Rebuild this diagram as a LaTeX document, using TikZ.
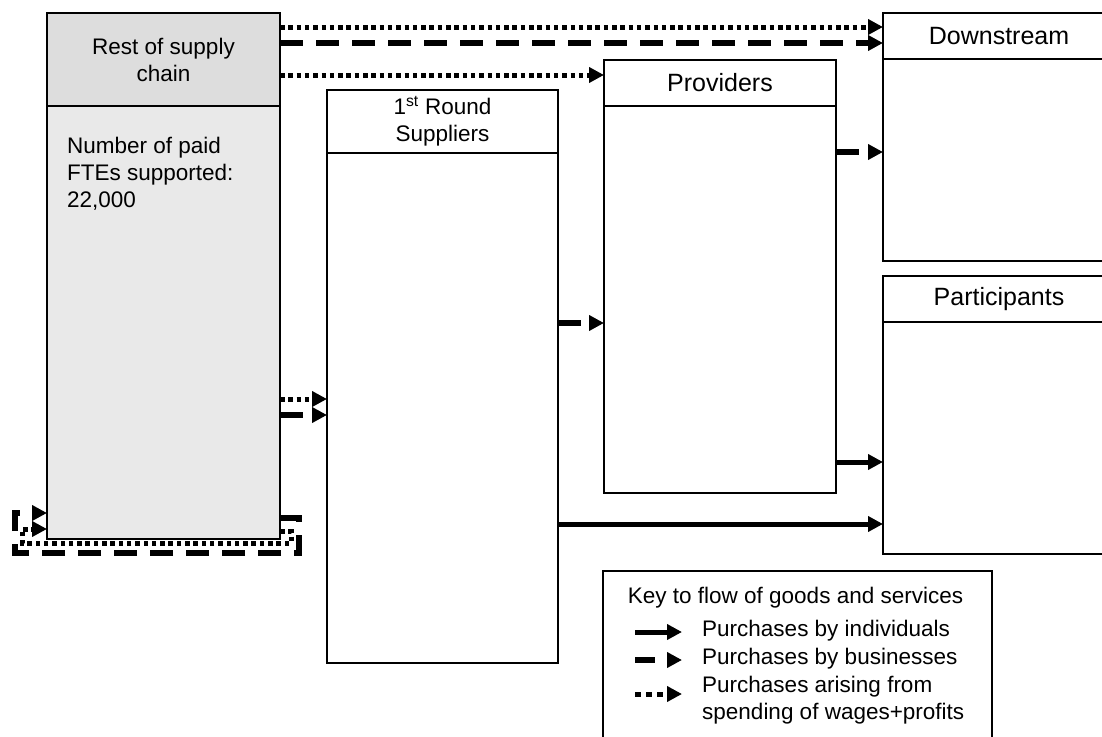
\documentclass[tikz,border=0pt]{standalone}
\usepackage{fontspec}
\setmainfont{Liberation Sans}
\usetikzlibrary{arrows.meta}

\definecolor{headgray}{RGB}{221,221,221}
\definecolor{bodygray}{RGB}{233,233,233}

\newcommand{\normtext}{\fontsize{22.5}{27}\selectfont}
\newcommand{\bigtext}{\fontsize{25}{30}\selectfont}

\tikzset{
  box/.style={draw=black, line width=1.5pt, inner sep=0pt, outer sep=0pt, fill=white},
  head/.style={box, font=\normtext, align=center},
  bighead/.style={box, font=\bigtext, align=center},
  indflow/.style={line width=5pt, -{Triangle[length=15pt,width=15pt]}},
  busflow/.style={line width=5.5pt, dash pattern=on 23pt off 13pt, -{Triangle[length=15pt,width=15pt]}},
  wageflow/.style={line width=5pt, dash pattern=on 4.5pt off 3.8pt, -{Triangle[length=15pt,width=15pt]}},
}

\begin{document}
\begin{tikzpicture}[x=1pt,y=-1pt]
        \useasboundingbox (0,0) rectangle (1102,736);
        \clip (0,0) rectangle (1102,736);

        % boxes
        \node[box, fill=bodygray, minimum width=233, minimum height=526] (rsc) at (163.5,276) {};
        \node[head, fill=headgray, minimum width=233, minimum height=93, anchor=north] (rsch) at (rsc.north) {Rest of supply\\chain};
        \node[font=\normtext, align=left, anchor=north west, inner sep=0pt] (fte) at (67,137) {Number of paid\\FTEs supported:\\22,000};

        \node[box, minimum width=231, minimum height=573] (frs) at (442.5,376.5) {};
        \node[head, minimum width=231, minimum height=63, anchor=north] (frsh) at (frs.north) {1\textsuperscript{st} Round\\Suppliers};

        \node[box, minimum width=232, minimum height=433] (prov) at (720,276.5) {};
        \node[bighead, minimum width=232, minimum height=46, anchor=north] (provh) at (prov.north) {Providers};

        \node[box, minimum width=232, minimum height=248] (down) at (999,137) {};
        \node[bighead, minimum width=232, minimum height=46, anchor=north] (downh) at (down.north) {Downstream};

        \node[box, minimum width=232, minimum height=278] (part) at (999,415) {};
        \node[bighead, minimum width=232, minimum height=46, anchor=north] (parth) at (part.north) {Participants};

        % flows
        \path [wageflow] (rsc.east |- 0,27) edge (down.west |- 0,27);
        \path [busflow] (rsc.east |- 0,43) edge (down.west |- 0,43);
        \path [wageflow] (rsc.east |- 0,75) edge (prov.west |- 0,75);

        \path [wageflow] (rsc.east |- 0,399) edge (frs.west |- 0,399);
        \path [busflow] (rsc.east |- 0,415) edge (frs.west |- 0,415);

        \path [busflow] (frs.east |- 0,323) edge (prov.west |- 0,323);
        \path [indflow] (frs.east |- 0,524) edge (part.west |- 0,524);

        \path [busflow] (prov.east |- 0,152) edge (down.west |- 0,152);
        \path [indflow] (prov.east |- 0,462) edge (part.west |- 0,462);

        % loops back into the rest of the chain
        \draw [busflow] (rsc.east |- 0,518) -- (299,518) -- (299,553) -- (15,553) -- (15,513) -- (rsc.west |- 0,513);
        \draw [wageflow] (rsc.east |- 0,531) -- (291,531) -- (291,543) -- (22,543) -- (22,529) -- (rsc.west |- 0,529);

        % key
        \node[box, minimum width=389, minimum height=189] (key) at (797.5,665.5) {};
        \node[font=\normtext, inner sep=0pt, anchor=base] (keyt) at (795.5,603) {Key to flow of goods and services};
        \node[font=\normtext, inner sep=0pt, anchor=base west] (kind) at (702,636) {Purchases by individuals};
        \node[font=\normtext, inner sep=0pt, anchor=base west] (kbus) at (702,664) {Purchases by businesses};
        \node[font=\normtext, inner sep=0pt, anchor=north west, align=left] (kwag) at (702,675.5) {Purchases arising from\\spending of wages+profits};

        \coordinate (l1a) at (635,632);
        \coordinate (l1b) at (682,632);
        \coordinate (l2a) at (635,660);
        \coordinate (l2b) at (682,660);
        \coordinate (l3a) at (635,694);
        \coordinate (l3b) at (682,694);
        \path [indflow] (l1a) edge (l1b);
        \path [busflow, dash pattern=on 20pt off 12pt] (l2a) edge (l2b);
        \path [wageflow, dash pattern=on 6pt off 5pt] (l3a) edge (l3b);
\end{tikzpicture}
\end{document}
